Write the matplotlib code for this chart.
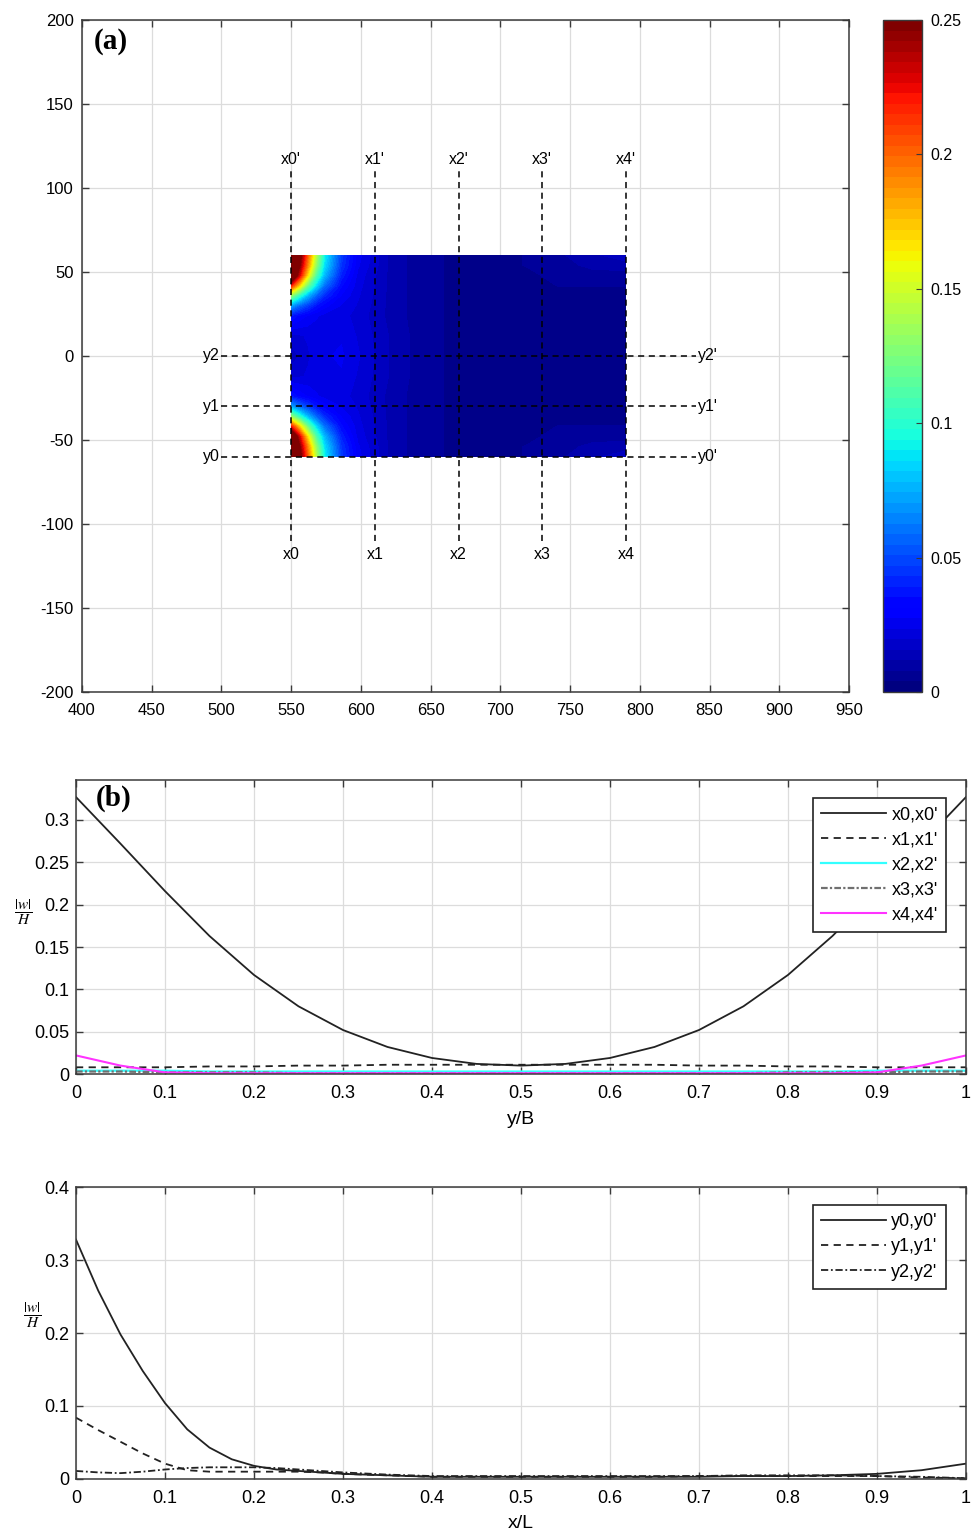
import numpy as np
import matplotlib
import matplotlib.pyplot as plt
from matplotlib import font_manager
from matplotlib.colors import Normalize
from matplotlib import cm
from matplotlib.ticker import FuncFormatter

plt.rcParams['font.family'] = ['Liberation Sans', 'DejaVu Sans']
plt.rcParams['mathtext.fontset'] = 'stix'
plt.rcParams['axes.unicode_minus'] = False

names = {f.name for f in font_manager.fontManager.ttflist}
narrow = 'Liberation Sans Narrow' if 'Liberation Sans Narrow' in names else 'Liberation Sans'

# ---- panel (a): plate and section lines ----
plate_x = [550, 790]
plate_y = [-60, 60]
sec_x = [550, 610, 670, 730, 790]
sec_x_names = ['x0', 'x1', 'x2', 'x3', 'x4']
sec_y = [-60, -30, 0]
sec_y_names = ['y0', 'y1', 'y2']

# |w|/H over the plate (lower half, mirrored about y/B = 0.5)
field_xL = [0, 0.025, 0.05, 0.075, 0.1, 0.15, 0.2, 0.3, 0.4, 0.5, 0.6, 0.7, 0.8, 0.9, 1.0]
field_yB = [0, 0.05, 0.1, 0.15, 0.2, 0.25, 0.3, 0.4, 0.5]
field_w = [
    [0.330, 0.260, 0.200, 0.140, 0.090, 0.045, 0.025, 0.010, 0.005, 0.003, 0.003, 0.004, 0.007, 0.011, 0.014],
    [0.320, 0.250, 0.190, 0.130, 0.085, 0.043, 0.024, 0.010, 0.005, 0.003, 0.003, 0.004, 0.006, 0.009, 0.010],
    [0.290, 0.230, 0.165, 0.110, 0.075, 0.038, 0.022, 0.010, 0.005, 0.003, 0.003, 0.003, 0.005, 0.006, 0.006],
    [0.220, 0.170, 0.120, 0.085, 0.058, 0.032, 0.021, 0.010, 0.005, 0.003, 0.003, 0.003, 0.004, 0.004, 0.004],
    [0.130, 0.100, 0.075, 0.055, 0.040, 0.027, 0.020, 0.010, 0.005, 0.003, 0.003, 0.003, 0.003, 0.003, 0.003],
    [0.070, 0.055, 0.045, 0.035, 0.029, 0.023, 0.019, 0.010, 0.005, 0.003, 0.003, 0.003, 0.003, 0.003, 0.003],
    [0.035, 0.030, 0.027, 0.024, 0.022, 0.021, 0.018, 0.010, 0.005, 0.003, 0.003, 0.003, 0.003, 0.003, 0.003],
    [0.018, 0.019, 0.020, 0.021, 0.022, 0.023, 0.019, 0.011, 0.005, 0.003, 0.003, 0.003, 0.003, 0.003, 0.003],
    [0.013, 0.016, 0.019, 0.021, 0.023, 0.024, 0.020, 0.011, 0.005, 0.003, 0.003, 0.003, 0.003, 0.003, 0.003],
]

# ---- panel (b): profiles along y/B ----
yB = [0, 0.05, 0.1, 0.15, 0.2, 0.25, 0.3, 0.35, 0.4, 0.45, 0.5,
      0.55, 0.6, 0.65, 0.7, 0.75, 0.8, 0.85, 0.9, 0.95, 1.0]
w_x0 = [0.327, 0.272, 0.216, 0.163, 0.117, 0.080, 0.052, 0.032, 0.019, 0.012, 0.010,
        0.012, 0.019, 0.032, 0.052, 0.080, 0.117, 0.163, 0.216, 0.272, 0.327]
w_x1 = [0.008, 0.008, 0.008, 0.009, 0.009, 0.010, 0.010, 0.011, 0.011, 0.011, 0.011,
        0.011, 0.011, 0.011, 0.010, 0.010, 0.009, 0.009, 0.008, 0.008, 0.008]
w_x2 = [0.004, 0.004, 0.004, 0.003, 0.003, 0.003, 0.003, 0.003, 0.003, 0.003, 0.003,
        0.003, 0.003, 0.003, 0.003, 0.003, 0.003, 0.003, 0.004, 0.004, 0.004]
w_x3 = [0.003, 0.003, 0.002, 0.002, 0.002, 0.001, 0.001, 0.001, 0.001, 0.001, 0.001,
        0.001, 0.001, 0.001, 0.001, 0.001, 0.002, 0.002, 0.002, 0.003, 0.003]
w_x4 = [0.022, 0.010, 0.002, 0.001, 0.001, 0.001, 0.001, 0.001, 0.001, 0.001, 0.001,
        0.001, 0.001, 0.001, 0.001, 0.001, 0.001, 0.001, 0.002, 0.010, 0.022]

# ---- panel (c): profiles along x/L ----
xL = [0, 0.025, 0.05, 0.075, 0.1, 0.125, 0.15, 0.175, 0.2, 0.225, 0.25, 0.275, 0.3,
      0.35, 0.4, 0.45, 0.5, 0.55, 0.6, 0.65, 0.7, 0.75, 0.8, 0.85, 0.9, 0.95, 1.0]
w_y0 = [0.328, 0.258, 0.198, 0.148, 0.104, 0.068, 0.043, 0.027, 0.018, 0.013, 0.011, 0.009, 0.007,
        0.005, 0.003, 0.003, 0.003, 0.003, 0.003, 0.003, 0.003, 0.004, 0.004, 0.005, 0.007, 0.012, 0.021]
w_y1 = [0.084, 0.067, 0.051, 0.035, 0.021, 0.012, 0.010, 0.010, 0.010, 0.010, 0.010, 0.009, 0.007,
        0.005, 0.003, 0.003, 0.003, 0.003, 0.003, 0.003, 0.004, 0.004, 0.004, 0.004, 0.004, 0.002, 0.001]
w_y2 = [0.011, 0.009, 0.008, 0.010, 0.013, 0.015, 0.016, 0.016, 0.016, 0.015, 0.013, 0.011, 0.009,
        0.006, 0.004, 0.004, 0.004, 0.004, 0.004, 0.004, 0.004, 0.005, 0.005, 0.005, 0.004, 0.003, 0.001]

grid_c = '#dcdcdc'
spine_c = '#3a3a3a'


def style_axes(ax, size, family, xpad, ypad):
    ax.grid(True, color=grid_c, linewidth=0.9)
    ax.set_axisbelow(True)
    ax.tick_params(direction='in', length=5, width=1.0, top=True, right=True,
                   colors='black', labelsize=size, color=spine_c)
    ax.tick_params(axis='x', pad=xpad)
    ax.tick_params(axis='y', pad=ypad)
    for lab in ax.get_xticklabels() + ax.get_yticklabels():
        lab.set_family(family)
    for s in ax.spines.values():
        s.set_color(spine_c)
        s.set_linewidth(1.1)


fmt = FuncFormatter(lambda v, p: '%g' % round(v, 2))

fig = plt.figure(figsize=(9.78, 15.39), dpi=100)

# ================= (a) =================
axa = fig.add_axes([0.0838, 0.5504, 0.7843, 0.4366])
cmap = matplotlib.colormaps['jet'].resampled(64)
fx = np.array(field_xL)
fy = np.array(field_yB)
fz = np.array(field_w)
yfull = np.concatenate([fy, 1 - fy[-2::-1]])
zfull = np.vstack([fz, fz[-2::-1]])
X, Y = np.meshgrid(plate_x[0] + fx * (plate_x[1] - plate_x[0]),
                   plate_y[0] + yfull * (plate_y[1] - plate_y[0]))
axa.contourf(X, Y, zfull, levels=np.linspace(0, 0.25, 65), cmap='jet', extend='max', zorder=2)

for xs, nm in zip(sec_x, sec_x_names):
    axa.plot([xs, xs], [-110, 110], color='black', linestyle=(0, (4, 3)), linewidth=1.1, zorder=3)
    axa.text(xs, 117, nm + "'", ha='center', va='center', fontsize=11.5)
    axa.text(xs, -118, nm, ha='center', va='center', fontsize=11.5)
for ys, nm in zip(sec_y, sec_y_names):
    axa.plot([500, 840], [ys, ys], color='black', linestyle=(0, (4, 3)), linewidth=1.1, zorder=3)
    axa.text(499, ys, nm, ha='right', va='center', fontsize=11.5)
    axa.text(842, ys, nm + "'", ha='left', va='center', fontsize=11.5)

axa.set_xlim(400, 950)
axa.set_ylim(-200, 200)
axa.set_xticks(np.arange(400, 951, 50))
axa.set_yticks(np.arange(-200, 201, 50))
style_axes(axa, 12, 'Liberation Sans', 8, 6)
axa.text(0.015, 0.988, '(a)', transform=axa.transAxes, ha='left', va='top',
         fontsize=21, fontweight='bold', family='Liberation Serif')

cax = fig.add_axes([0.9029, 0.5504, 0.0399, 0.4366])
sm = cm.ScalarMappable(norm=Normalize(0, 0.25), cmap=cmap)
sm.set_array([])
cb = fig.colorbar(sm, cax=cax, ticks=[0, 0.05, 0.1, 0.15, 0.2, 0.25])
cb.ax.yaxis.set_major_formatter(fmt)
cb.ax.tick_params(direction='in', length=4, labelsize=11.5, color=spine_c, pad=6)
cb.outline.set_edgecolor(spine_c)
cb.outline.set_linewidth(1.0)

# ================= (b) =================
axb = fig.add_axes([0.0777, 0.3021, 0.9100, 0.1910])
axb.plot(yB, w_x0, color='#222222', linewidth=1.3, label="x0,x0'")
axb.plot(yB, w_x1, color='#222222', linestyle=(0, (4, 3)), linewidth=1.3, label="x1,x1'")
axb.plot(yB, w_x2, color='#33ffff', linewidth=1.6, label="x2,x2'")
axb.plot(yB, w_x3, color='#707070', linestyle=(0, (3, 1, 1, 1)), linewidth=1.6, label="x3,x3'")
axb.plot(yB, w_x4, color='#ff33ff', linewidth=1.5, label="x4,x4'")
axb.set_xlim(0, 1)
axb.set_ylim(0, 0.347)
axb.set_xticks(np.arange(0, 1.01, 0.1))
axb.set_yticks(np.arange(0, 0.301, 0.05))
axb.xaxis.set_major_formatter(fmt)
axb.yaxis.set_major_formatter(fmt)
style_axes(axb, 13, narrow, 8, 5)
axb.set_xlabel('y/B', fontsize=14, family=narrow, labelpad=6)
axb.text(-0.059, 0.55, r'$\dfrac{|w|}{H}$', transform=axb.transAxes, ha='center', va='center', fontsize=11)
axb.text(0.022, 0.985, '(b)', transform=axb.transAxes, ha='left', va='top',
         fontsize=21, fontweight='bold', family='Liberation Serif')
leg = axb.legend(loc='upper right', bbox_to_anchor=(0.9775, 0.939), borderaxespad=0,
                 fancybox=False, edgecolor='#222222', framealpha=1, handlelength=3.6,
                 labelspacing=0.45, borderpad=0.45, handletextpad=0.3,
                 prop={'family': narrow, 'size': 13})
leg.get_frame().set_linewidth(1.2)

# ================= (c) =================
axc = fig.add_axes([0.0777, 0.0390, 0.9100, 0.1897])
axc.plot(xL, w_y0, color='#222222', linewidth=1.3, label="y0,y0'")
axc.plot(xL, w_y1, color='#222222', linestyle=(0, (4, 3)), linewidth=1.3, label="y1,y1'")
axc.plot(xL, w_y2, color='#222222', linestyle=(0, (4, 1.5, 1, 1.5)), linewidth=1.3, label="y2,y2'")
axc.set_xlim(0, 1)
axc.set_ylim(0, 0.4)
axc.set_xticks(np.arange(0, 1.01, 0.1))
axc.set_yticks(np.arange(0, 0.401, 0.1))
axc.xaxis.set_major_formatter(fmt)
axc.yaxis.set_major_formatter(fmt)
style_axes(axc, 13, narrow, 8, 5)
axc.set_xlabel('x/L', fontsize=14, family=narrow, labelpad=6)
axc.text(-0.049, 0.56, r'$\dfrac{|w|}{H}$', transform=axc.transAxes, ha='center', va='center', fontsize=11)
leg = axc.legend(loc='upper right', bbox_to_anchor=(0.9775, 0.938), borderaxespad=0,
                 fancybox=False, edgecolor='#222222', framealpha=1, handlelength=3.6,
                 labelspacing=0.45, borderpad=0.45, handletextpad=0.3,
                 prop={'family': narrow, 'size': 13})
leg.get_frame().set_linewidth(1.2)

plt.savefig('out.png', dpi=100)
